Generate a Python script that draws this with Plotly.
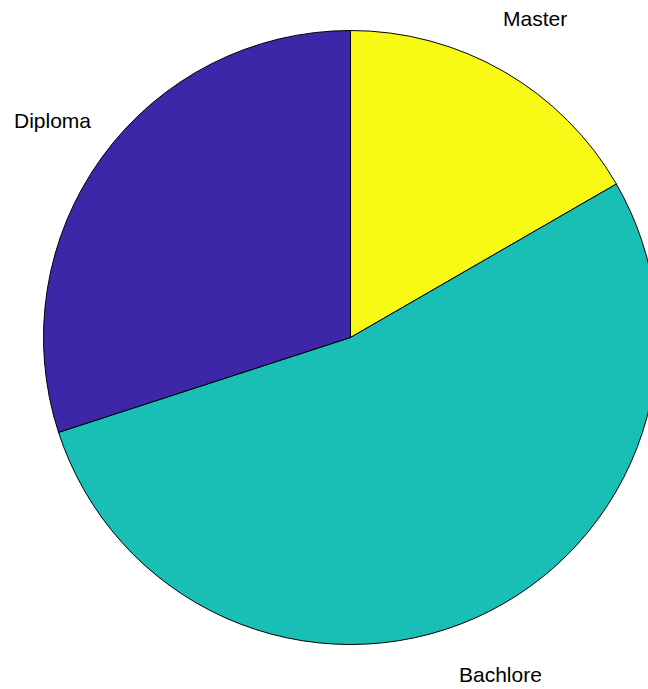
import math
import plotly.graph_objects as go

# Data (clockwise from 12 o'clock, as in the reference)
categories = ["Master", "Bachlore", "Diploma"]
counts = [5, 16, 9]
colors = ["#F8F914", "#19BFB5", "#3E26A8"]

W, H = 658, 689          # figure size (right edge of pie is cropped by the 648px window)
CX, CY, R = 350.5, 337.5, 307.0
LABEL_R = 1.2            # label radius factor (relative to pie radius)

fig = go.Figure(
    go.Pie(
        labels=categories,
        values=counts,
        sort=False,
        direction="clockwise",
        rotation=0,
        hole=0,
        textinfo="none",
        hoverinfo="label+percent",
        marker=dict(colors=colors, line=dict(color="black", width=1)),
        domain=dict(x=[(CX - R) / W, (CX + R) / W],
                    y=[1 - (CY + R) / H, 1 - (CY - R) / H]),
        showlegend=False,
    )
)

# category labels placed at 1.2 x radius, at each wedge's mid-angle (clockwise)
total = sum(counts)
cum = 0
for name, v in zip(categories, counts):
    theta = 2 * math.pi * (cum + v / 2) / total
    cum += v
    px = CX + LABEL_R * R * math.sin(theta)
    py = CY - LABEL_R * R * math.cos(theta)
    fig.add_annotation(
        x=px / W, y=1 - py / H, xref="paper", yref="paper",
        text=name, showarrow=False, xanchor="center", yanchor="middle",
        font=dict(family="Liberation Sans, Arial, sans-serif", size=21, color="black"),
    )

fig.update_layout(
    width=W, height=H,
    margin=dict(l=0, r=0, t=0, b=0),
    paper_bgcolor="white", plot_bgcolor="white",
)

fig.write_html(
    "out.html",
    config={"displayModeBar": False},
    post_script="document.body.style.margin='0';document.body.style.overflow='hidden';",
)
